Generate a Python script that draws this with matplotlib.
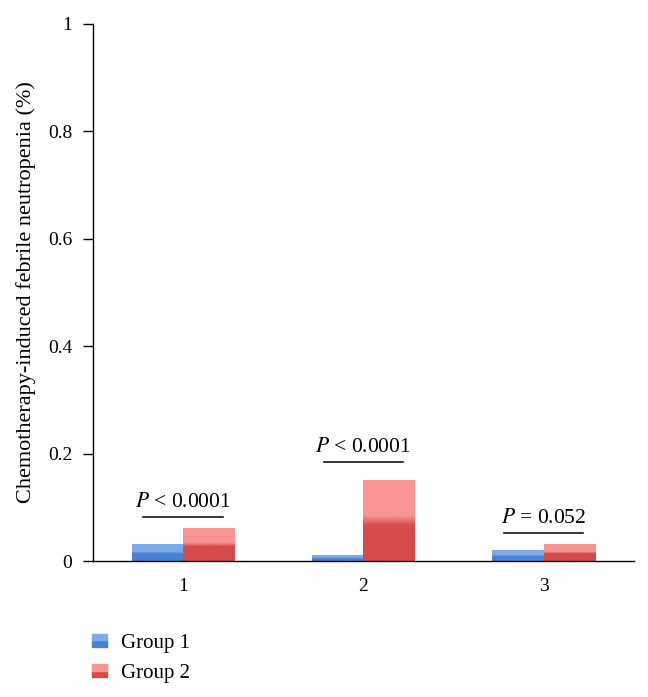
import numpy as np
import matplotlib
matplotlib.use("Agg")
from matplotlib import pyplot as plt
from matplotlib.patches import Rectangle
from matplotlib.legend_handler import HandlerBase
from matplotlib.colors import to_rgb

# data
categories = ["1", "2", "3"]
group1 = [0.03, 0.01, 0.02]
group2 = [0.06, 0.15, 0.03]
labels = ["Group 1", "Group 2"]
p_texts = ["< 0.0001", "< 0.0001", "= 0.052"]
p_heights = [0.082, 0.184, 0.052]
y_ticks = [0, 0.2, 0.4, 0.6, 0.8, 1]
y_ticklabels = ["0", "0.2", "0.4", "0.6", "0.8", "1"]

# colours: (light top, dark bottom)
blue = ("#7eabea", "#4a82d3")
red = ("#f89494", "#d54b4a")

plt.rcParams["font.family"] = ["Liberation Serif", "DejaVu Serif"]

fig = plt.figure(figsize=(6.48, 6.97), dpi=100)
ax = fig.add_axes([0.1435, 0.1951, 0.978 - 0.1435, 0.9656 - 0.1951])

x = np.arange(1, len(categories) + 1)
w = 0.285


def grad(light, dark, n=200):
    t = np.linspace(0, 1, n)
    k = np.clip((t - 0.44) / 0.12, 0, 1)[:, None]
    lo = np.array(to_rgb(dark))
    hi = np.array(to_rgb(light))
    return (lo * (1 - k) + hi * k)[:, None, :]


for vals, cols, off in [(group1, blue, -w / 2), (group2, red, w / 2)]:
    bars = ax.bar(x + off, vals, w, color="none", edgecolor="none")
    img = grad(*cols)
    for b in bars:
        x0, y0 = b.get_x(), b.get_y()
        ax.imshow(img, origin="lower", aspect="auto", interpolation="bilinear",
                  extent=[x0, x0 + b.get_width(), y0, y0 + b.get_height()], zorder=2)

# p-value brackets
for xi, txt, h in zip(x, p_texts, p_heights):
    ax.plot([xi - 0.22, xi + 0.22], [h, h], color="black", lw=1.1)
    ax.text(xi, h + 0.01, "$P$ " + txt, ha="center", va="bottom", fontsize=15.5,
            math_fontfamily="stix")

ax.set_xlim(0.5, 3.5)
ax.set_ylim(0, 1)
ax.set_xticks(x)
ax.set_xticklabels(categories, fontsize=14)
ax.set_yticks(y_ticks)
ax.set_yticklabels(y_ticklabels, fontsize=14)
ax.tick_params(axis="x", length=0, pad=12)
ax.tick_params(axis="y", length=7, width=1, direction="out", pad=8)
for s in ["top", "right"]:
    ax.spines[s].set_visible(False)
ax.spines["left"].set_linewidth(1)
ax.spines["bottom"].set_linewidth(1)
ax.set_ylabel("Chemotherapy-induced febrile neutropenia (%)", fontsize=16)
ax.yaxis.set_label_coords(-0.105, 0.5)


class GradHandler(HandlerBase):
    def __init__(self, cols):
        super().__init__()
        self.cols = cols

    def create_artists(self, legend, orig_handle, xd, yd, width, height, fontsize, trans):
        top = Rectangle((-xd, -yd + height / 2), width, height / 2, color=self.cols[0], transform=trans)
        bot = Rectangle((-xd, -yd), width, height / 2, color=self.cols[1], transform=trans)
        return [bot, top]


h1 = Rectangle((0, 0), 1, 1)
h2 = Rectangle((0, 0), 1, 1)
fig.legend([h1, h2], labels, loc="upper left", bbox_to_anchor=(0.142, 0.091),
           frameon=False, fontsize=15, handlelength=0.7, handleheight=0.6,
           handletextpad=0.7, labelspacing=0.55, borderpad=0, borderaxespad=0,
           handler_map={h1: GradHandler(blue), h2: GradHandler(red)})

fig.savefig("out.png", dpi=100)
